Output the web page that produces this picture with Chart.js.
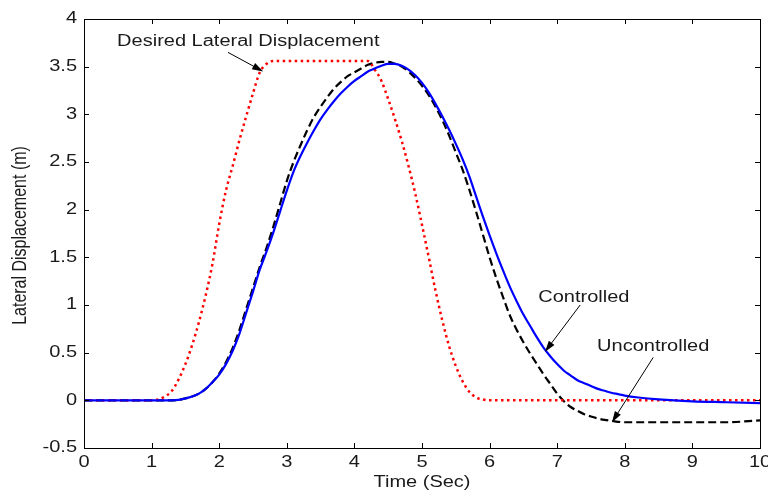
<!DOCTYPE html>
<html>
<head>
<meta charset="utf-8">
<title>Lateral Displacement</title>
<script src="https://cdn.jsdelivr.net/npm/chart.js@4.4.0/dist/chart.umd.min.js"></script>
<style>
    html, body { margin: 0; padding: 0; background: #fff; }
    #grafico { display: block; }
</style>
</head>
<body>
<canvas id="grafico" width="768" height="493"></canvas>
<script>
// desired path (red dotted)
const timeDesired = [0, 1.0, 1.1, 1.2, 1.3, 1.4, 1.5, 1.6, 1.7, 1.8, 1.9, 2.0, 2.1, 2.2, 2.3, 2.4, 2.5, 2.6, 2.7, 2.8,
    4.2, 4.3, 4.4, 4.5, 4.6, 4.7, 4.8, 4.9, 5.0, 5.1, 5.2, 5.3, 5.4, 5.5, 5.6, 5.7, 5.8, 5.9, 6.0, 10];
const desired = [0, 0, 0.01, 0.04, 0.1, 0.22, 0.38, 0.58, 0.82, 1.1, 1.43, 1.85, 2.2, 2.46, 2.73, 2.98, 3.22, 3.44, 3.53, 3.56,
    3.56, 3.47, 3.35, 3.16, 2.95, 2.72, 2.46, 2.17, 1.84, 1.5, 1.15, 0.84, 0.57, 0.36, 0.2, 0.09, 0.03, 0.01, 0, 0];

// vehicle response, with and without the controller
const timeResponse = [0, 1.3, 1.4, 1.5, 1.6, 1.7, 1.8, 1.9, 2.0, 2.1, 2.2,
    2.3, 2.4, 2.5, 2.6, 2.7, 2.8, 2.9, 3.0, 3.1, 3.2,
    3.3, 3.4, 3.5, 3.6, 3.7, 3.8, 3.9, 4.0, 4.1, 4.2,
    4.3, 4.4, 4.5, 4.6, 4.7, 4.8, 4.9, 5.0, 5.1, 5.2,
    5.3, 5.4, 5.5, 5.6, 5.7, 5.8, 5.9, 6.0, 6.1, 6.2,
    6.3, 6.4, 6.5, 6.6, 6.7, 6.8, 6.9, 7.0, 7.1, 7.2,
    7.3, 7.4, 7.5, 7.6, 7.7, 7.8, 7.9, 8.0,
    8.2, 8.5, 9.0, 9.5, 10];
const controlled = [0, 0, 0.005, 0.02, 0.04, 0.07, 0.12, 0.19, 0.27, 0.38, 0.52,
    0.7, 0.92, 1.14, 1.37, 1.56, 1.76, 1.98, 2.2, 2.4, 2.56,
    2.7, 2.83, 2.95, 3.05, 3.14, 3.22, 3.29, 3.35, 3.4, 3.45,
    3.48, 3.51, 3.53, 3.53, 3.51, 3.47, 3.41, 3.33, 3.23, 3.11,
    2.98, 2.84, 2.69, 2.53, 2.35, 2.14, 1.93, 1.73, 1.54, 1.36,
    1.19, 1.04, 0.9, 0.78, 0.66, 0.55, 0.46, 0.38, 0.31, 0.26,
    0.21, 0.18, 0.15, 0.12, 0.1, 0.08, 0.065, 0.05,
    0.03, 0.01, -0.01, -0.02, -0.03];
const uncontrolled = [0, 0, 0.005, 0.02, 0.04, 0.07, 0.12, 0.19, 0.28, 0.4, 0.55,
    0.74, 0.96, 1.18, 1.4, 1.6, 1.82, 2.06, 2.3, 2.5, 2.67,
    2.83, 2.97, 3.08, 3.18, 3.27, 3.34, 3.4, 3.44, 3.48, 3.52,
    3.54, 3.55, 3.55, 3.53, 3.5, 3.45, 3.38, 3.3, 3.2, 3.08,
    2.94, 2.78, 2.6, 2.42, 2.21, 1.98, 1.74, 1.5, 1.28, 1.08,
    0.89, 0.74, 0.61, 0.49, 0.38, 0.27, 0.17, 0.07, -0.01, -0.07,
    -0.11, -0.145, -0.17, -0.19, -0.205, -0.215, -0.225, -0.23,
    -0.23, -0.23, -0.23, -0.23, -0.21];

const xTicks = [0, 1, 2, 3, 4, 5, 6, 7, 8, 9, 10];
const yTicks = [-0.5, 0, 0.5, 1, 1.5, 2, 2.5, 3, 3.5, 4];

const xTitle = 'Time (Sec)';
const yTitle = 'Lateral Displacement (m)';

// callouts: text anchor and arrow (tail -> head), in axis units
const callouts = [
    { text: 'Desired Lateral Displacement', tx: 0.49, ty: 3.76, ax: 2.13, ay: 3.65, bx: 2.65, by: 3.45 },
    { text: 'Controlled', tx: 6.72, ty: 1.08, ax: 7.34, ay: 1.0, bx: 6.82, by: 0.51 },
    { text: 'Uncontrolled', tx: 7.59, ty: 0.56, ax: 8.42, ay: 0.45, bx: 7.81, by: -0.23 }
];

const FONTE = '16px "Liberation Sans", Arial, sans-serif';
const ESTICA = 1.25; // wide text, like the old figure export
const COR_TEXTO = '#1a1a1a';

function pontos(tempos, valores) {
    return tempos.map((t, i) => ({ x: t, y: valores[i] }));
}

function texto(ctx, str, x, y, align) {
    ctx.save();
    ctx.translate(x, y);
    ctx.scale(ESTICA, 1);
    ctx.textAlign = align;
    ctx.textBaseline = 'middle';
    ctx.fillText(str, 0, 0);
    ctx.restore();
}

function seta(ctx, x0, y0, x1, y1) {
    const ang = Math.atan2(y1 - y0, x1 - x0);
    const c = Math.cos(ang), s = Math.sin(ang);
    const len = 11, meia = 3.5;
    ctx.beginPath();
    ctx.moveTo(x0, y0);
    ctx.lineTo(x1 - c * len * 0.7, y1 - s * len * 0.7);
    ctx.stroke();
    ctx.beginPath();
    ctx.moveTo(x1, y1);
    ctx.lineTo(x1 - c * len + s * meia, y1 - s * len - c * meia);
    ctx.lineTo(x1 - c * len - s * meia, y1 - s * len + c * meia);
    ctx.closePath();
    ctx.fill();
}

// box, inward ticks, labels and callouts
const moldura = {
    id: 'moldura',
    afterDatasetsDraw(chart) {
        const ctx = chart.ctx;
        const a = chart.chartArea;
        const sx = chart.scales.x, sy = chart.scales.y;
        const tick = 5;

        ctx.save();
        ctx.strokeStyle = '#000';
        ctx.lineWidth = 1;
        ctx.strokeRect(Math.round(a.left) + 0.5, Math.round(a.top) + 0.5,
            Math.round(a.right - a.left), Math.round(a.bottom - a.top));

        ctx.beginPath();
        xTicks.forEach(v => {
            const px = Math.round(sx.getPixelForValue(v)) + 0.5;
            ctx.moveTo(px, a.bottom); ctx.lineTo(px, a.bottom - tick);
            ctx.moveTo(px, a.top); ctx.lineTo(px, a.top + tick);
        });
        yTicks.forEach(v => {
            const py = Math.round(sy.getPixelForValue(v)) + 0.5;
            ctx.moveTo(a.left, py); ctx.lineTo(a.left + tick, py);
            ctx.moveTo(a.right, py); ctx.lineTo(a.right - tick, py);
        });
        ctx.stroke();

        ctx.fillStyle = COR_TEXTO;
        ctx.font = FONTE;
        xTicks.forEach(v => texto(ctx, String(v), sx.getPixelForValue(v), a.bottom + 15, 'center'));
        yTicks.forEach(v => texto(ctx, String(v), a.left - 7, sy.getPixelForValue(v), 'right'));

        texto(ctx, xTitle, (a.left + a.right) / 2, a.bottom + 35, 'center');

        ctx.save();
        ctx.translate(20, (a.top + a.bottom) / 2 + 2);
        ctx.rotate(-Math.PI / 2);
        ctx.scale(1, ESTICA);
        ctx.textAlign = 'center';
        ctx.textBaseline = 'middle';
        ctx.fillText(yTitle, 0, 0);
        ctx.restore();

        ctx.strokeStyle = '#000';
        callouts.forEach(c => {
            ctx.fillStyle = COR_TEXTO;
            texto(ctx, c.text, sx.getPixelForValue(c.tx), sy.getPixelForValue(c.ty), 'left');
            ctx.fillStyle = '#000';
            seta(ctx, sx.getPixelForValue(c.ax), sy.getPixelForValue(c.ay),
                sx.getPixelForValue(c.bx), sy.getPixelForValue(c.by));
        });
        ctx.restore();
    }
};

const ctx = document.getElementById('grafico');

new Chart(ctx, {
    type: 'line',
    data: {
        datasets: [
            {
                label: 'Controlled',
                data: pontos(timeResponse, controlled),
                borderColor: '#0000ff',
                borderWidth: 2.2,
                pointRadius: 0,
                cubicInterpolationMode: 'monotone'
            },
            {
                label: 'Desired Lateral Displacement',
                data: pontos(timeDesired, desired),
                borderColor: '#ff0000',
                borderWidth: 2.5,
                borderDash: [2.5, 3.5],
                pointRadius: 0,
                cubicInterpolationMode: 'monotone'
            },
            {
                label: 'Uncontrolled',
                data: pontos(timeResponse, uncontrolled),
                borderColor: '#000000',
                borderWidth: 2.2,
                borderDash: [8, 4],
                pointRadius: 0,
                cubicInterpolationMode: 'monotone'
            }
        ]
    },
    options: {
        responsive: false,
        animation: false,
        events: [],
        layout: { padding: { top: 19, right: 8, left: 0, bottom: 0 } },
        scales: {
            x: {
                type: 'linear',
                min: 0,
                max: 10,
                grid: { display: false },
                border: { display: false },
                ticks: { display: false },
                afterBuildTicks: s => { s.ticks = xTicks.map(v => ({ value: v })); },
                afterFit: s => { s.height = 45; }
            },
            y: {
                type: 'linear',
                min: -0.5,
                max: 4,
                grid: { display: false },
                border: { display: false },
                ticks: { display: false },
                afterBuildTicks: s => { s.ticks = yTicks.map(v => ({ value: v })); },
                afterFit: s => { s.width = 84; }
            }
        },
        plugins: {
            legend: { display: false },
            tooltip: { enabled: false }
        }
    },
    plugins: [moldura]
});
</script>
</body>
</html>
